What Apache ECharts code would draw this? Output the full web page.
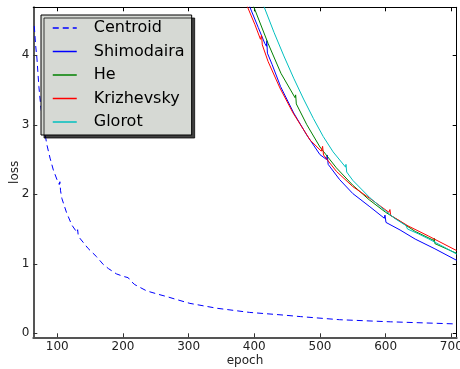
<!DOCTYPE html>
<html>
<head>
<meta charset="utf-8">
<script src="https://cdn.jsdelivr.net/npm/echarts@6/dist/echarts.min.js"></script>
<style>
html,body{margin:0;padding:0;background:#fff;}
#chart{width:460px;height:369px;}
</style>
</head>
<body>
<div id="chart"></div>
<script>
const epochTicks = [100, 200, 300, 400, 500, 600, 700];
const lossTicks = [0, 1, 2, 3, 4];
const seriesNames = ['Centroid', 'Shimodaira', 'He', 'Krizhevsky', 'Glorot'];

const centroid = [[65,4.42],[67,4.15],[69,3.96],[72,3.55],[75,3.25],[80,2.95],[84,2.72],[89,2.52],[94,2.35],[100,2.20],[103,2.14],[104,2.18],[105,2.05],[107,1.94],[114,1.74],[122,1.56],[130,1.45],[131,1.49],[132,1.40],[135,1.36],[147,1.22],[160,1.10],[170,0.99],[178,0.93],[190,0.855],[200,0.82],[208,0.80],[209,0.81],[211,0.76],[218,0.70],[236,0.61],[254,0.56],[267,0.527],[280,0.49],[281,0.50],[283,0.47],[302,0.43],[343,0.36],[393,0.30],[444,0.262],[470,0.24],[530,0.195],[607,0.165],[708,0.134]];

const shimodaira = [[389,4.80],[393.4,4.69],[406,4.40],[416,4.17],[418.5,4.13],[419,4.21],[420,4.03],[427,3.87],[440,3.55],[460,3.17],[480,2.85],[500,2.57],[510,2.50],[511,2.565],[512.5,2.43],[530,2.21],[550,2.01],[576,1.82],[598,1.655],[599,1.70],[600.5,1.595],[622,1.486],[645,1.355],[675,1.215],[708,1.05]];

const he = [[395,4.79],[399.5,4.69],[421,4.17],[440.6,3.74],[462,3.39],[463,3.43],[464,3.30],[480,3.00],[500,2.68],[525,2.38],[550,2.13],[575,1.92],[600,1.74],[622,1.61],[645,1.465],[673.6,1.335],[674.1,1.365],[675,1.29],[708,1.15]];

const krizhevsky = [[386,4.78],[389.9,4.69],[401,4.44],[409.4,4.23],[411,4.29],[412.2,4.15],[421,3.91],[439,3.53],[459,3.17],[485,2.78],[502,2.62],[504,2.69],[505.4,2.565],[525,2.33],[550,2.11],[576,1.94],[605,1.74],[606.5,1.78],[607.7,1.695],[622,1.615],[634,1.545],[665,1.40],[708,1.19]];

const glorot = [[411,4.79],[415.2,4.69],[430,4.33],[445,3.99],[460,3.67],[475,3.37],[490,3.09],[505,2.83],[520,2.61],[539,2.39],[539.6,2.43],[540.7,2.32],[550,2.20],[576,1.95],[601,1.75],[615,1.645],[631,1.55],[632,1.575],[633.3,1.50],[650,1.43],[665,1.36],[690,1.235],[708,1.14]];

const seriesData = [centroid, shimodaira, he, krizhevsky, glorot];
const seriesColors = ['#0000ff', '#0000ff', '#008000', '#ff0000', '#00bfbf'];
const seriesDash = [[6, 4], 'solid', 'solid', 'solid', 'solid'];

const FONT = 'DejaVu Sans';
const xMin = 63.5, xMax = 708.2, yMin = -0.058, yMax = 4.69;

const chart = echarts.init(document.getElementById('chart'), null, {renderer: 'canvas'});

function xAx(pos) {
  const bottom = pos === 'bottom';
  return {
    type: 'value', position: pos, min: xMin, max: xMax,
    axisLine: {show: true, onZero: false, lineStyle: {color: bottom ? '#555' : '#000', width: bottom ? 2 : 1}},
    axisTick: {show: true, inside: true, length: 4, customValues: epochTicks, lineStyle: {color: bottom ? '#333' : '#000'}},
    axisLabel: {show: bottom, customValues: epochTicks, margin: 4, fontSize: 12, fontFamily: FONT, color: '#222'},
    splitLine: {show: false},
    name: bottom ? 'epoch' : '', nameLocation: 'middle', nameGap: 18, nameMoveOverlap: false,
    nameTextStyle: {fontSize: 12, fontFamily: FONT, color: '#222'}
  };
}
function yAx(pos) {
  const left = pos === 'left';
  return {
    type: 'value', position: pos, min: yMin, max: yMax,
    axisLine: {show: true, onZero: false, lineStyle: {color: left ? '#555' : '#000', width: left ? 2 : 1}},
    axisTick: {show: true, inside: true, length: 4, customValues: lossTicks, lineStyle: {color: left ? '#333' : '#000'}},
    axisLabel: {show: left, customValues: lossTicks, margin: 4, fontSize: 12, fontFamily: FONT, color: '#222'},
    splitLine: {show: false},
    name: left ? 'loss' : '', nameLocation: 'middle', nameGap: 12, nameRotate: 90, nameMoveOverlap: false,
    nameTextStyle: {fontSize: 12, fontFamily: FONT, color: '#222'}
  };
}

const option = {
  animation: false,
  backgroundColor: '#ffffff',
  grid: {left: 33.3, right: 3.3, top: 7.3, bottom: 31.7, containLabel: false, outerBoundsMode: 'none'},
  xAxis: [xAx('bottom'), xAx('top')],
  yAxis: [yAx('left'), yAx('right')],
  legend: {
    data: seriesNames,
    orient: 'vertical',
    left: 41, top: 15,
    itemWidth: 24, itemHeight: 10, itemGap: 7.5,
    padding: [5, 7, 5, 11],
    backgroundColor: '#d6d9d4',
    borderColor: '#000', borderWidth: 1,
    shadowColor: 'rgba(0,0,0,0.75)', shadowBlur: 0, shadowOffsetX: 3, shadowOffsetY: 3,
    selectedMode: false,
    itemStyle: {opacity: 0},
    lineStyle: {width: 1.5},
    textStyle: {fontSize: 16, fontFamily: FONT, color: '#000', lineHeight: 16, padding: [0, 0, 0, 12]}
  },
  series: seriesNames.map((n, i) => ({
    name: n, type: 'line', xAxisIndex: 0, yAxisIndex: 0,
    data: seriesData[i], symbol: 'none', showSymbol: false, clip: true,
    lineStyle: {color: seriesColors[i], width: 1, type: seriesDash[i]},
    itemStyle: {color: seriesColors[i]}
  }))
};
chart.setOption(option);
</script>
</body>
</html>
